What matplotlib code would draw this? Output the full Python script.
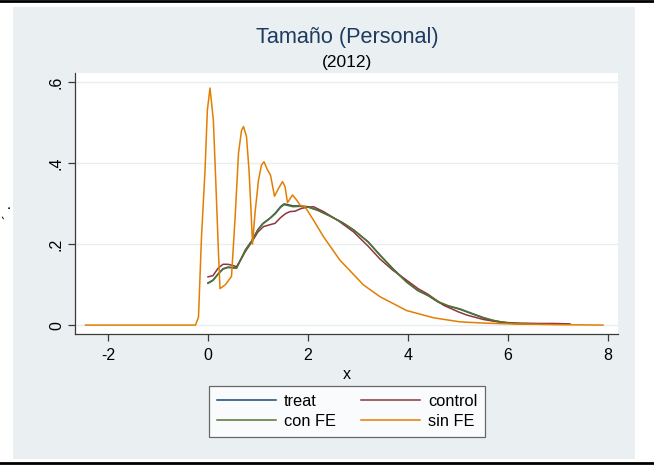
"""
Kernel density comparison (Stata s2color look): treat / control / con FE / sin FE.
"""

import matplotlib
matplotlib.use("Agg")
import matplotlib.pyplot as plt
from matplotlib.patches import Rectangle
from matplotlib.lines import Line2D

plt.rcParams['font.family'] = ['Liberation Sans', 'DejaVu Sans']

# --- data ---
sinfe_x = [-2.45, -0.25, -0.19, -0.13, -0.06, -0.013, 0.04, 0.107, 0.16, 0.21, 0.24,
           0.35, 0.47, 0.54, 0.61, 0.67, 0.71, 0.77, 0.82, 0.86, 0.89, 0.94, 1.01,
           1.07, 1.12, 1.19, 1.25, 1.33, 1.41, 1.49, 1.54, 1.59, 1.69, 1.77, 1.84,
           1.94, 2.11, 2.31, 2.64, 3.11, 3.44, 3.97, 4.51, 5.04, 5.5, 6.0, 6.5, 7.0,
           7.5, 7.9]
sinfe_y = [0.0, 0.0, 0.02, 0.218, 0.38, 0.53, 0.585, 0.506, 0.34, 0.177, 0.09,
           0.1, 0.12, 0.26, 0.424, 0.48, 0.49, 0.465, 0.383, 0.284, 0.2, 0.276, 0.358,
           0.395, 0.403, 0.383, 0.37, 0.318, 0.337, 0.354, 0.342, 0.302, 0.321, 0.309, 0.296,
           0.292, 0.259, 0.218, 0.16, 0.099, 0.07, 0.036, 0.018, 0.008, 0.005, 0.003, 0.002, 0.001,
           0.0005, 0.0]

confe_x = [0.0, 0.1, 0.2, 0.3, 0.4, 0.5, 0.57, 0.65, 0.75, 0.87, 1.0, 1.1, 1.24, 1.35,
           1.45, 1.52, 1.6, 1.7, 1.85, 2.0, 2.2, 2.44, 2.7, 2.91, 3.2, 3.44, 3.7, 3.97,
           4.2, 4.4, 4.6, 4.8, 5.04, 5.3, 5.5, 5.7, 5.9, 6.1, 6.3, 6.45]
confe_y = [0.103, 0.11, 0.125, 0.138, 0.142, 0.141, 0.14, 0.16, 0.185, 0.206, 0.235,
           0.25, 0.263, 0.275, 0.29, 0.297, 0.295, 0.292, 0.293, 0.291, 0.283, 0.269,
           0.252, 0.235, 0.205, 0.172, 0.138, 0.106, 0.085, 0.073, 0.058, 0.048, 0.040,
           0.028, 0.019, 0.012, 0.007, 0.004, 0.003, 0.002]

treat_x = confe_x
treat_y = [0.104, 0.111, 0.126, 0.139, 0.143, 0.142, 0.141, 0.161, 0.186, 0.207, 0.236,
           0.251, 0.264, 0.277, 0.292, 0.299, 0.297, 0.294, 0.294, 0.292, 0.283, 0.269,
           0.252, 0.235, 0.206, 0.173, 0.139, 0.107, 0.085, 0.073, 0.057, 0.047, 0.039,
           0.027, 0.018, 0.011, 0.007, 0.004, 0.003, 0.002]

control_x = [0.0, 0.1, 0.2, 0.3, 0.4, 0.5, 0.57, 0.65, 0.75, 0.87, 1.0, 1.11, 1.22,
             1.34, 1.45, 1.55, 1.64, 1.74, 1.87, 2.0, 2.11, 2.31, 2.6, 2.91, 3.2, 3.44,
             3.7, 3.97, 4.2, 4.4, 4.71, 5.0, 5.17, 5.5, 5.84, 6.2, 6.6, 6.9, 7.24]
control_y = [0.119, 0.122, 0.14, 0.15, 0.15, 0.147, 0.144, 0.16, 0.182, 0.204, 0.23,
             0.243, 0.247, 0.251, 0.265, 0.275, 0.28, 0.281, 0.288, 0.291, 0.292, 0.28,
             0.258, 0.23, 0.195, 0.163, 0.135, 0.111, 0.09, 0.076, 0.049, 0.033, 0.025,
             0.014, 0.007, 0.005, 0.004, 0.004, 0.003]

xticks = [-2, 0, 2, 4, 6, 8]
yticks = [0, 0.2, 0.4, 0.6]
ytick_labels = ['0', '.2', '.4', '.6']

# Stata s2color palette
NAVY = '#1a476f'
MAROON = '#90353b'
GREEN = '#55752f'
ORANGE = '#e37e00'
PANEL = '#eaf0f2'
GRID = '#e6eef0'
AXIS = '#3a3a3a'

fig = plt.figure(figsize=(6.54, 4.65), dpi=100)
fig.patch.set_facecolor('white')

# graph region (light blue-gray panel) and the black frame lines
fig.patches.append(Rectangle((13 / 654, 1 - 459 / 465), 622 / 654, 452 / 465,
                             transform=fig.transFigure, facecolor=PANEL,
                             edgecolor='none', zorder=-10))
fig.add_artist(Line2D([0, 1], [1 - 1 / 465] * 2, color='black', lw=2.0,
                      transform=fig.transFigure))
fig.add_artist(Line2D([0, 1], [1 - 463 / 465] * 2, color='black', lw=2.0,
                      transform=fig.transFigure))

ax = fig.add_axes([75 / 654, 1 - 334 / 465, 543 / 654, 261 / 465])
ax.set_zorder(1)
ax.set_facecolor('white')

lw = 1.1
h_treat, = ax.plot(treat_x, treat_y, color=NAVY, lw=lw, label='treat', zorder=3)
h_control, = ax.plot(control_x, control_y, color=MAROON, lw=lw, label='control', zorder=3)
h_confe, = ax.plot(confe_x, confe_y, color=GREEN, lw=lw, label='con FE', zorder=4)
h_sinfe, = ax.plot(sinfe_x, sinfe_y, color=ORANGE, lw=lw, label='sin FE', zorder=5)

ax.set_xlim(-2.66, 8.2)
ax.set_ylim(-0.022, 0.622)

ax.set_xticks(xticks)
ax.set_xticklabels([str(t) for t in xticks], fontsize=11.5)
ax.set_yticks(yticks)
ax.set_yticklabels(ytick_labels, fontsize=11.5, rotation=90, va='center')
ax.tick_params(direction='out', length=5, width=0.9, color=AXIS)
ax.tick_params(axis='x', pad=5)
ax.tick_params(axis='y', pad=3)

ax.grid(axis='y', color=GRID, lw=1.0)
ax.set_axisbelow(True)
for side in ['top', 'right']:
    ax.spines[side].set_visible(False)
for side in ['left', 'bottom']:
    ax.spines[side].set_color(AXIS)
    ax.spines[side].set_linewidth(0.9)

ax.set_xlabel('x', fontsize=11.5, labelpad=3)

# garbled y axis title as in the original
fig.text(10 / 654, 1 - 212 / 465, "´ ·", rotation=90, fontsize=11,
         ha='center', va='center')

# titles
fig.text(347 / 654, 1 - 37 / 465, 'Tamaño (Personal)', fontsize=15.6,
         color='#1e3a5f', ha='center', va='center')
fig.text(347 / 654, 1 - 62 / 465, '(2012)', fontsize=12.5,
         color='black', ha='center', va='center')

# legend below the plot (matplotlib fills columns first, so reorder for row-wise)
handles = [h_treat, h_confe, h_control, h_sinfe]
leg = fig.legend(handles, [h.get_label() for h in handles], loc='center',
                 bbox_to_anchor=(347 / 654, 1 - 411.5 / 465),
                 ncol=2, fontsize=11.8, frameon=True, fancybox=False,
                 handlelength=3.6, columnspacing=1.5, handletextpad=0.5,
                 labelspacing=0.32, borderpad=0.5, borderaxespad=0)
leg.get_frame().set_edgecolor('#444444')
leg.get_frame().set_linewidth(0.9)
leg.set_zorder(2)

plt.savefig('out.png', dpi=100, facecolor='white')
